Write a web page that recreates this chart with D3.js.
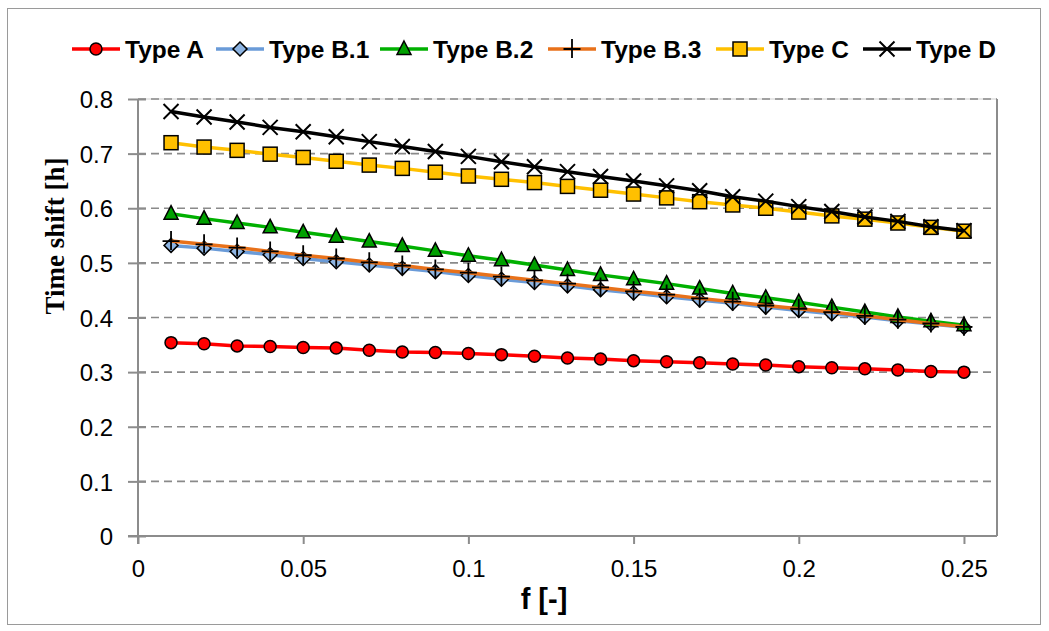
<!DOCTYPE html>
<html>
<head>
<meta charset="utf-8">
<script src="https://cdn.jsdelivr.net/npm/d3@7"></script>
<style>
  html, body { margin: 0; padding: 0; background: #fff; }
  svg { display: block; }
</style>
</head>
<body>
<svg id="chart" width="1049" height="631"></svg>
<script>
// f values on the horizontal axis
const fValues = [0.01, 0.02, 0.03, 0.04, 0.05, 0.06, 0.07, 0.08, 0.09, 0.10,
                 0.11, 0.12, 0.13, 0.14, 0.15, 0.16, 0.17, 0.18, 0.19, 0.20,
                 0.21, 0.22, 0.23, 0.24, 0.25];

// Time shift [h] per type
const typeA  = [0.354, 0.352, 0.348, 0.347, 0.345, 0.344, 0.340, 0.337, 0.336, 0.334,
                0.332, 0.329, 0.326, 0.324, 0.321, 0.319, 0.317, 0.315, 0.313, 0.310,
                0.308, 0.306, 0.304, 0.301, 0.300];
const typeB1 = [0.532, 0.527, 0.521, 0.515, 0.508, 0.502, 0.496, 0.490, 0.484, 0.477,
                0.470, 0.464, 0.458, 0.451, 0.445, 0.438, 0.432, 0.426, 0.419, 0.413,
                0.407, 0.401, 0.394, 0.388, 0.382];
const typeB2 = [0.590, 0.581, 0.573, 0.565, 0.556, 0.548, 0.539, 0.531, 0.522, 0.513,
                0.505, 0.496, 0.487, 0.478, 0.470, 0.462, 0.453, 0.444, 0.436, 0.428,
                0.419, 0.410, 0.401, 0.393, 0.386];
const typeB3 = [0.540, 0.534, 0.528, 0.521, 0.514, 0.508, 0.501, 0.495, 0.488, 0.482,
                0.475, 0.468, 0.462, 0.455, 0.448, 0.442, 0.435, 0.429, 0.422, 0.416,
                0.410, 0.403, 0.396, 0.389, 0.383];
const typeC  = [0.720, 0.712, 0.706, 0.699, 0.693, 0.686, 0.679, 0.673, 0.666, 0.659,
                0.653, 0.647, 0.640, 0.633, 0.626, 0.619, 0.612, 0.606, 0.600, 0.593,
                0.586, 0.580, 0.573, 0.565, 0.558];
const typeD  = [0.777, 0.767, 0.758, 0.748, 0.740, 0.731, 0.722, 0.713, 0.704, 0.695,
                0.685, 0.676, 0.667, 0.658, 0.650, 0.641, 0.632, 0.621, 0.613, 0.603,
                0.594, 0.584, 0.576, 0.566, 0.559];

const seriesNames = ["Type A", "Type B.1", "Type B.2", "Type B.3", "Type C", "Type D"];
const xTicks = [0, 0.05, 0.1, 0.15, 0.2, 0.25];
const yTicks = [0, 0.1, 0.2, 0.3, 0.4, 0.5, 0.6, 0.7, 0.8];
const xTitle = "f [-]";
const yTitle = "Time shift [h]";

const seriesStyle = [
  { values: typeA,  line: "#ff0000", marker: "circle",   fill: "#ff0000" },
  { values: typeB1, line: "#6a9bd8", marker: "diamond",  fill: "#8db4e2" },
  { values: typeB2, line: "#00b000", marker: "triangle", fill: "#00a000" },
  { values: typeB3, line: "#e8711a", marker: "plus",     fill: "none" },
  { values: typeC,  line: "#ffc000", marker: "square",   fill: "#ffc000" },
  { values: typeD,  line: "#000000", marker: "cross",    fill: "none" }
];

const svg = d3.select("#chart");
const plot = { left: 138, right: 997, top: 99, bottom: 536 };

const x = d3.scaleLinear().domain([0, 0.26]).range([plot.left, plot.right]);
const y = d3.scaleLinear().domain([0, 0.8]).range([plot.bottom, plot.top]);

// chart frame
svg.append("rect")
  .attr("x", 7.5).attr("y", 8.5).attr("width", 1033).attr("height", 616)
  .attr("fill", "#fff").attr("stroke", "#9a9a9a").attr("stroke-width", 1);

// plot frame (top/right)
svg.append("line")
  .attr("x1", plot.left).attr("x2", plot.right).attr("y1", plot.top).attr("y2", plot.top)
  .attr("stroke", "#cfcfcf").attr("stroke-width", 1);
svg.append("line")
  .attr("x1", plot.right).attr("x2", plot.right).attr("y1", plot.top).attr("y2", plot.bottom)
  .attr("stroke", "#8c8c8c").attr("stroke-width", 2);

// horizontal dashed gridlines
svg.append("g").selectAll("line")
  .data(yTicks.filter(d => d > 0))
  .join("line")
  .attr("x1", plot.left).attr("x2", plot.right)
  .attr("y1", d => y(d)).attr("y2", d => y(d))
  .attr("stroke", "#8a8a8a").attr("stroke-width", 1.6)
  .attr("stroke-dasharray", "8,5");

// y axis with crossing ticks
const yAxis = d3.axisLeft(y).tickValues(yTicks).tickFormat(d3.format("")).tickSize(10).tickPadding(15);
const gy = svg.append("g").attr("transform", `translate(${plot.left},0)`).call(yAxis);
gy.select(".domain").attr("stroke", "#8c8c8c").attr("stroke-width", 2)
  .attr("d", `M0,${plot.top}V${plot.bottom + 8}`);
gy.selectAll(".tick line").attr("stroke", "#8c8c8c").attr("stroke-width", 2).attr("x2", 8).attr("x1", -10);
gy.selectAll(".tick text")
  .attr("font-family", "'Liberation Sans', Arial, sans-serif").attr("font-size", 24).attr("fill", "#000")
  .attr("x", -25).attr("dy", "0.36em");

// x axis
const xAxis = d3.axisBottom(x).tickValues(xTicks).tickFormat(d3.format("")).tickSize(8).tickPadding(16);
const gx = svg.append("g").attr("transform", `translate(0,${plot.bottom})`).call(xAxis);
gx.select(".domain").attr("stroke", "#8c8c8c").attr("stroke-width", 2)
  .attr("d", `M${plot.left - 10},0H${plot.right}`);
gx.selectAll(".tick line").attr("stroke", "#8c8c8c").attr("stroke-width", 2);
gx.selectAll(".tick text")
  .attr("font-family", "'Liberation Sans', Arial, sans-serif").attr("font-size", 24).attr("fill", "#000");

// axis titles
svg.append("text")
  .attr("x", 544).attr("y", 609)
  .attr("text-anchor", "middle")
  .attr("font-family", "'Liberation Sans', Arial, sans-serif").attr("font-weight", "bold").attr("font-size", 29)
  .text(xTitle);
svg.append("text")
  .attr("transform", "translate(64,236) rotate(-90)")
  .attr("text-anchor", "middle")
  .attr("font-family", "'Liberation Serif', 'Times New Roman', serif").attr("font-weight", "bold").attr("font-size", 27)
  .text(yTitle);

// marker drawing
function drawMarker(g, type, fill) {
  switch (type) {
    case "circle":
      g.append("circle").attr("r", 6).attr("fill", fill).attr("stroke", "#000").attr("stroke-width", 1.5);
      break;
    case "diamond":
      g.append("path").attr("d", "M0,-7L7,0L0,7L-7,0Z")
        .attr("fill", fill).attr("stroke", "#000").attr("stroke-width", 1.5);
      break;
    case "triangle":
      g.append("path").attr("d", "M0,-8L7,5.5L-7,5.5Z")
        .attr("fill", fill).attr("stroke", "#000").attr("stroke-width", 1.5);
      break;
    case "square":
      g.append("rect").attr("x", -7).attr("y", -7).attr("width", 14).attr("height", 14)
        .attr("fill", fill).attr("stroke", "#000").attr("stroke-width", 1.5);
      break;
    case "plus":
      g.append("path").attr("d", "M0,-10V9M-8.5,0H8.5")
        .attr("fill", "none").attr("stroke", "#000").attr("stroke-width", 1.8);
      break;
    case "cross":
      g.append("path").attr("d", "M-7.5,-7.5L7.5,7.5M-7.5,7.5L7.5,-7.5")
        .attr("fill", "none").attr("stroke", "#000").attr("stroke-width", 2);
      break;
  }
}

const line = d3.line().x((d, i) => x(fValues[i])).y(d => y(d));

// series, each line followed by its markers
seriesStyle.forEach(s => {
  const g = svg.append("g");
  g.append("path").attr("d", line(s.values))
    .attr("fill", "none").attr("stroke", s.line).attr("stroke-width", 3.5)
    .attr("stroke-linejoin", "round");
  s.values.forEach((v, i) => {
    const m = g.append("g").attr("transform", `translate(${x(fValues[i])},${y(v)})`);
    drawMarker(m, s.marker, s.fill);
  });
});

// legend
const legendX = [72, 216, 380, 548, 716, 863];
const legendY = 49;
seriesStyle.forEach((s, i) => {
  const g = svg.append("g").attr("transform", `translate(${legendX[i]},${legendY})`);
  g.append("line").attr("x1", 0).attr("x2", 48).attr("y1", 0).attr("y2", 0)
    .attr("stroke", s.line).attr("stroke-width", 3.5);
  const m = g.append("g").attr("transform", "translate(24,0)");
  drawMarker(m, s.marker, s.fill);
  g.append("text").attr("x", 53).attr("y", 9)
    .attr("font-family", "'Liberation Sans', Arial, sans-serif").attr("font-weight", "bold").attr("font-size", 24.5)
    .attr("fill", "#000")
    .text(seriesNames[i]);
});
</script>
</body>
</html>
